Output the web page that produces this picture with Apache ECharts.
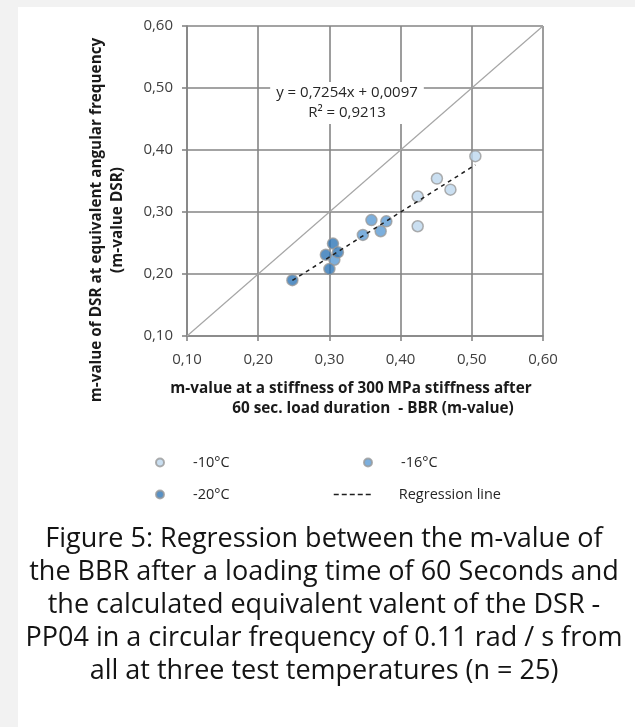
<!DOCTYPE html>
<html>
<head>
<meta charset="utf-8">
<title>m-value regression BBR vs DSR</title>
<script src="https://cdn.jsdelivr.net/npm/echarts@6/dist/echarts.min.js"></script>
<style>
  html, body { margin: 0; padding: 0; background: #f2f2f2; }
  #chart { width: 635px; height: 727px; }
</style>
</head>
<body>
<div id="chart"></div>
<script>
// m-value BBR (x) vs m-value DSR (y) per test temperature
const seriesNames = ['-10°C', '-16°C', '-20°C'];
const bbrM10 = [0.505, 0.451, 0.470, 0.424, 0.424];
const dsrM10 = [0.390, 0.354, 0.336, 0.325, 0.277];
const bbrM16 = [0.359, 0.380, 0.372, 0.347, 0.307];
const dsrM16 = [0.287, 0.285, 0.269, 0.263, 0.223];
const bbrM20 = [0.305, 0.295, 0.312, 0.300, 0.248];
const dsrM20 = [0.249, 0.231, 0.235, 0.208, 0.190];

// linear fit reported for the pooled data
const slope = 0.7254;
const intercept = 0.0097;
const rSquared = 0.9213;

const axisTicks = [0.1, 0.2, 0.3, 0.4, 0.5, 0.6];
const regressionName = 'Regression line';

const fmt = v => v.toFixed(2).replace('.', ',');
const fmt4 = v => v.toFixed(4).replace('.', ',');

const pairs = (xs, ys) => xs.map((x, i) => [x, ys[i]]);
const allX = bbrM10.concat(bbrM16, bbrM20);
const xLo = Math.min(...allX), xHi = Math.max(...allX);
const fitLine = [[xLo, slope * xLo + intercept], [xHi, slope * xHi + intercept]];
const identity = [[axisTicks[0], axisTicks[0]], [axisTicks[axisTicks.length - 1], axisTicks[axisTicks.length - 1]]];

const colors = ['#bdd7ee', '#5b9bd5', '#2e75b6'];
const gridColor = '#858585';
const font = "'Open Sans', 'Noto Sans', sans-serif";
const titleFont = 'bold 15.3px ' + font;

function pointSeries(name, data, color) {
  return {
    name, type: 'scatter', data, symbol: 'circle', symbolSize: 11,
    itemStyle: { color, borderColor: '#9a9a9a', borderWidth: 1.5 },
    z: 3
  };
}

function legendAt(data, left, top, opts) {
  return Object.assign({
    data: [data], left, top, padding: 0,
    itemWidth: 8, itemHeight: 8,
    textStyle: { fontFamily: font, fontSize: 14.5, color: '#262626', padding: [0, 0, 0, 24] },
    selectedMode: false
  }, opts || {});
}

const chart = echarts.init(document.getElementById('chart'), null, { renderer: 'canvas' });
chart.setOption({
  backgroundColor: '#f2f2f2',
  animation: false,
  graphic: [
    { type: 'rect', z: -10, shape: { x: 18, y: 7, width: 617, height: 720 }, style: { fill: '#ffffff' } },
    {
      type: 'text', x: 107, y: 220, rotation: Math.PI / 2,
      style: {
        text: 'm-value of DSR at equivalent angular frequency\n(m-value DSR)',
        align: 'center', verticalAlign: 'middle', lineHeight: 21,
        font: titleFont, fill: '#1a1a1a'
      }
    },
    {
      type: 'text', x: 351, y: 389,
      style: {
        text: 'm-value at a stiffness of 300 MPa stiffness after',
        align: 'center', verticalAlign: 'middle',
        font: titleFont, fill: '#1a1a1a'
      }
    },
    {
      type: 'text', x: 373, y: 409,
      style: {
        text: '60 sec. load duration  - BBR (m-value)',
        align: 'center', verticalAlign: 'middle',
        font: titleFont, fill: '#1a1a1a'
      }
    },
    {
      type: 'text', x: 347, y: 103, z: 10,
      style: {
        text: 'y = ' + fmt4(slope) + 'x + ' + fmt4(intercept) + '\nR² = ' + fmt4(rSquared),
        align: 'center', verticalAlign: 'middle', lineHeight: 20,
        font: '15px ' + font, fill: '#262626',
        backgroundColor: '#ffffff', padding: [1, 6]
      }
    },
    {
      type: 'text', x: 324, y: 605,
      style: {
        text: 'Figure 5: Regression between the m-value of\n' +
              'the BBR after a loading time of 60 Seconds and\n' +
              'the calculated equivalent valent of the DSR -\n' +
              'PP04 in a circular frequency of 0.11 rad / s from\n' +
              'all at three test temperatures (n = 25)',
        align: 'center', verticalAlign: 'middle', lineHeight: 33,
        font: '27px ' + font, fill: '#141414'
      }
    }
  ],
  grid: { left: 187, right: 92, top: 26, bottom: 391, containLabel: false },
  xAxis: {
    type: 'value', min: 0.1, max: 0.6, interval: 0.1,
    axisLine: { show: true, lineStyle: { color: gridColor, width: 1.6 } },
    axisTick: { show: true, length: 5, lineStyle: { color: gridColor, width: 1.6 } },
    axisLabel: { formatter: fmt, margin: 16, fontFamily: font, fontSize: 15, color: '#404040' },
    splitLine: { show: true, lineStyle: { color: gridColor, width: 1.6 } }
  },
  yAxis: {
    type: 'value', min: 0.1, max: 0.6, interval: 0.1,
    axisLine: { show: true, lineStyle: { color: gridColor, width: 1.6 } },
    axisTick: { show: true, length: 5, lineStyle: { color: gridColor, width: 1.6 } },
    axisLabel: { formatter: fmt, margin: 14, fontFamily: font, fontSize: 15, color: '#404040' },
    splitLine: { show: true, lineStyle: { color: gridColor, width: 1.6 } }
  },
  legend: [
    legendAt(seriesNames[0], 155, 455),
    legendAt(seriesNames[1], 363, 455),
    legendAt(seriesNames[2], 155, 487),
    legendAt({ name: regressionName, itemStyle: { opacity: 0 } }, 333, 487, {
      itemWidth: 38, itemHeight: 8,
      lineStyle: { type: [5, 3], width: 1.5, color: '#1f1f1f' },
      textStyle: { fontFamily: font, fontSize: 14.5, color: '#262626', padding: [0, 0, 0, 22] }
    })
  ],
  series: [
    {
      name: 'identity', type: 'line', data: identity, symbol: 'none', silent: true,
      lineStyle: { color: '#a6a6a6', width: 1.2 }, z: 2
    },
    pointSeries(seriesNames[0], pairs(bbrM10, dsrM10), colors[0]),
    pointSeries(seriesNames[1], pairs(bbrM16, dsrM16), colors[1]),
    pointSeries(seriesNames[2], pairs(bbrM20, dsrM20), colors[2]),
    {
      name: regressionName, type: 'line', data: fitLine, symbol: 'none',
      lineStyle: { color: '#1f1f1f', width: 1.5, type: [4, 4] }, z: 5
    }
  ]
});
</script>
</body>
</html>
